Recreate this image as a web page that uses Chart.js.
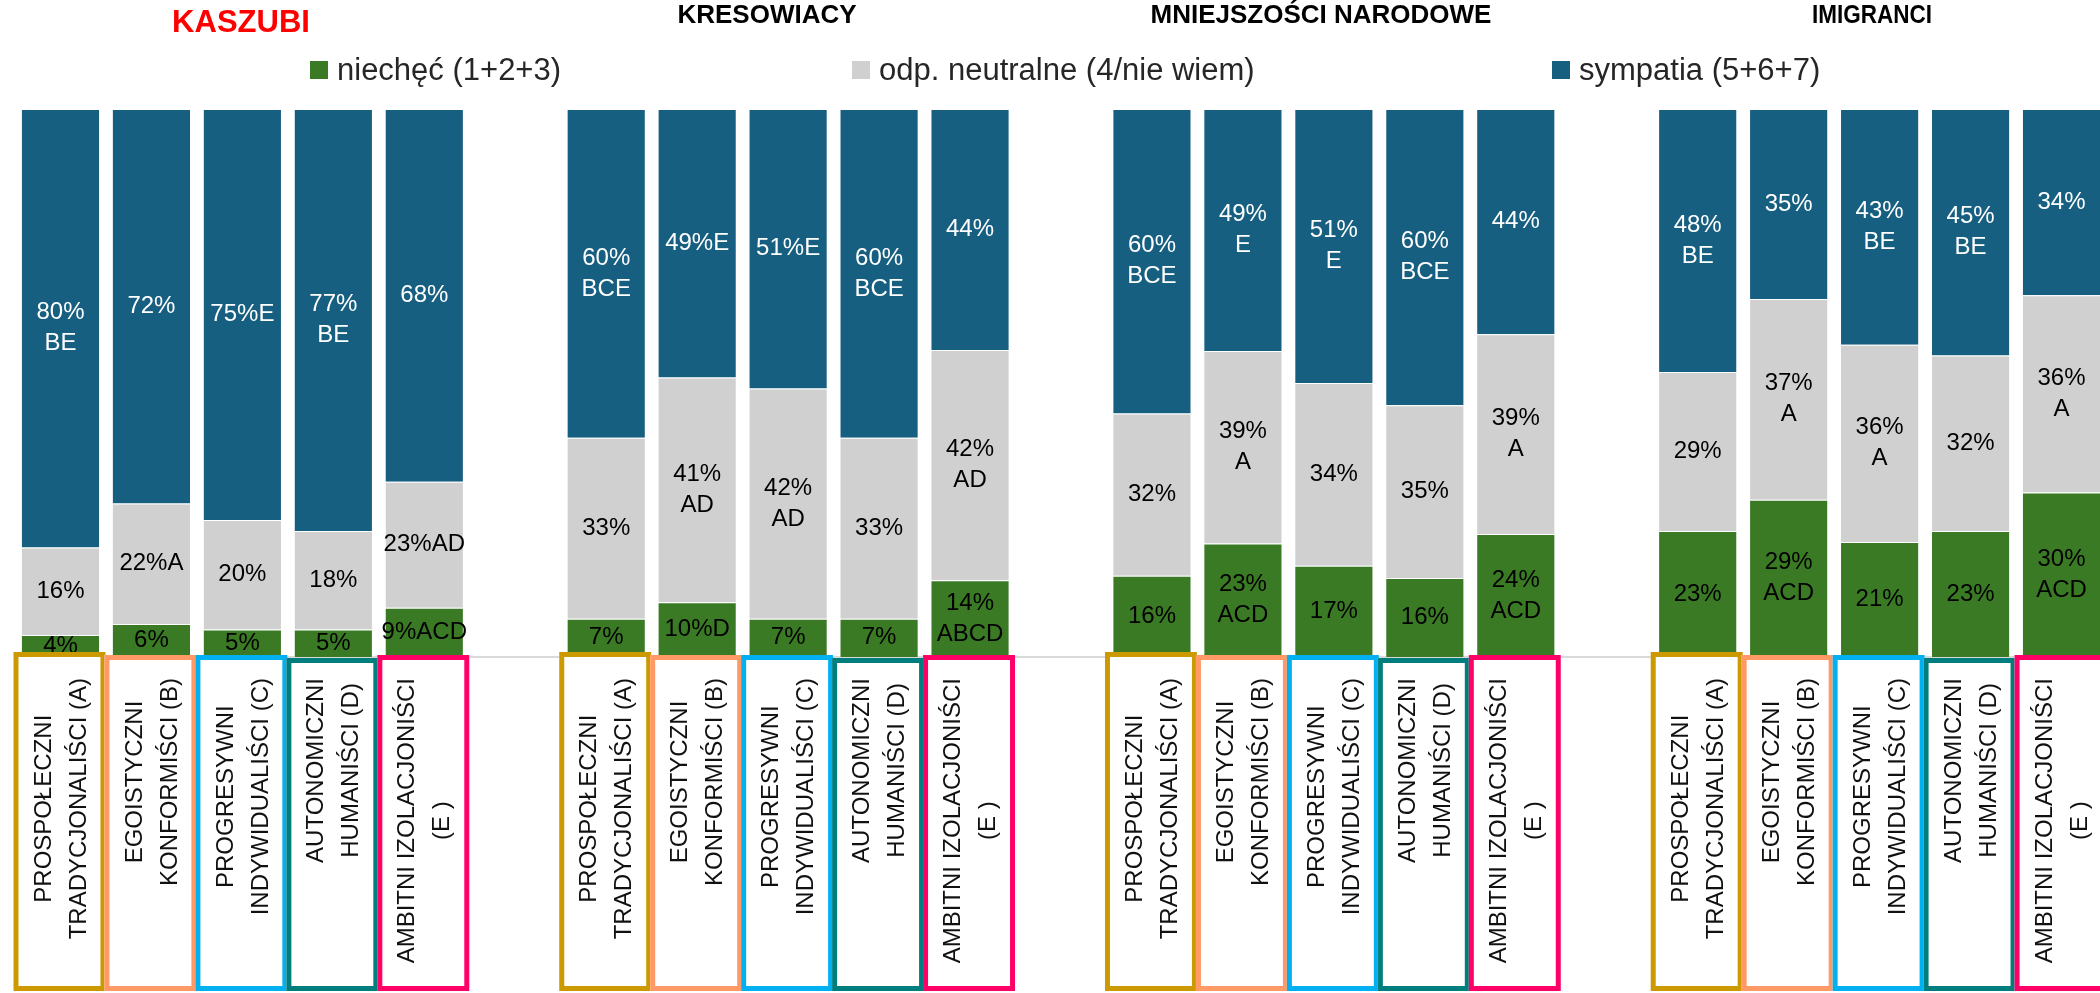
<!DOCTYPE html>
<html lang="pl">
<head>
<meta charset="utf-8">
<title>Niechęć i sympatia wobec grup</title>
<script src="https://cdn.jsdelivr.net/npm/chart.js@4.4.1/dist/chart.umd.min.js"></script>
<style>
  html, body { margin: 0; padding: 0; background: #fff; overflow: hidden; }
  #wrap { width: 2120px; height: 993px; }
</style>
</head>
<body>
<div id="wrap"><canvas id="chart" width="2120" height="993"></canvas></div>
<script>
// grupy - tytuły nad słupkami
const groups = ['KASZUBI', 'KRESOWIACY', 'MNIEJSZOŚCI NARODOWE', 'IMIGRANCI'];

// segmenty - opisy w ramkach pod słupkami
const segments = [
    ['PROSPOŁECZNI', 'TRADYCJONALIŚCI (A)'],
    ['EGOISTYCZNI', 'KONFORMIŚCI (B)'],
    ['PROGRESYWNI', 'INDYWIDUALIŚCI (C)'],
    ['AUTONOMICZNI', 'HUMANIŚCI (D)'],
    ['AMBITNI IZOLACJONIŚCI', '(E )'],
];

const seriesNames = ['niechęć (1+2+3)', 'odp. neutralne (4/nie wiem)', 'sympatia (5+6+7)'];

// wartości (%) - kolejno Kaszubi, Kresowiacy, Mniejszości, Imigranci, po 5 segmentów
const niechec   = [4, 6, 5, 5, 9,   7, 10, 7, 7, 14,   16, 23, 17, 16, 24,   23, 29, 21, 23, 30];
const neutralne = [16, 22, 20, 18, 23,   33, 41, 42, 33, 42,   32, 39, 34, 35, 39,   29, 37, 36, 32, 36];
const sympatia  = [80, 72, 75, 77, 68,   60, 49, 51, 60, 44,   60, 49, 51, 60, 44,   48, 35, 43, 45, 34];

// oznaczenia istotnych różnic ('\n' = w drugiej linii)
const niechecSig   = ['', '', '', '', 'ACD',   '', 'D', '', '', '\nABCD',   '', '\nACD', '', '', '\nACD',   '', '\nACD', '', '', '\nACD'];
const neutralneSig = ['', 'A', '', '', 'AD',   '', '\nAD', '\nAD', '', '\nAD',   '', '\nA', '', '', '\nA',   '', '\nA', '\nA', '', '\nA'];
const sympatiaSig  = ['\nBE', '', 'E', '\nBE', '',   '\nBCE', 'E', 'E', '\nBCE', '',   '\nBCE', '\nE', '\nE', '\nBCE', '',   '\nBE', '', '\nBE', '\nBE', ''];

const boxColors = ['#CC9A00', '#FF9A66', '#00B0F0', '#007E7E', '#FF0066'];
const FONT = "'Liberation Sans', Arial, sans-serif";

// sloty osi x: 5 słupków na grupę + pusty odstęp między grupami
const slotItem = [];
groups.forEach((g, gi) => {
    for (let t = 0; t < 5; t++) slotItem.push(gi * 5 + t);
    if (gi < groups.length - 1) slotItem.push(null);
});

// wykres 100% skumulowany - udział każdej części w sumie słupka
const shareOf = (arr) => slotItem.map(i => {
    if (i === null) return null;
    const total = niechec[i] + neutralne[i] + sympatia[i];
    return arr[i] / total * 100;
});

function makeSet(name, values, sig, color, textColor) {
    return {
        label: name,
        data: shareOf(values),
        values: values,
        sig: sig,
        textColor: textColor,
        backgroundColor: color,
        borderColor: 'rgba(255,255,255,0.45)',
        borderWidth: 1,
        categoryPercentage: 1,
        barPercentage: 0.87,
    };
}

const barLabels = {
    id: 'barLabels',
    afterDatasetsDraw(chart) {
        const ctx = chart.ctx;
        ctx.save();
        ctx.font = '24px ' + FONT;
        ctx.textAlign = 'center';
        ctx.textBaseline = 'middle';
        chart.data.datasets.forEach((ds, di) => {
            ctx.fillStyle = ds.textColor;
            chart.getDatasetMeta(di).data.forEach((bar, si) => {
                const item = slotItem[si];
                if (item === null) return;
                const lines = (ds.values[item] + '%' + ds.sig[item]).split('\n');
                const cy = (bar.y + bar.base) / 2;
                lines.forEach((ln, k) => {
                    ctx.fillText(ln, bar.x, cy + (k - (lines.length - 1) / 2) * 31);
                });
            });
        });
        ctx.restore();
    },
};

const decorations = {
    id: 'decorations',
    afterDraw(chart) {
        const ctx = chart.ctx;
        const x = chart.scales.x;
        const area = chart.chartArea;
        const sw = x.getPixelForValue(1) - x.getPixelForValue(0);
        const topShift = [-5, -2, -2, 1, -2];

        // ramki z nazwami segmentów
        slotItem.forEach((item, si) => {
            if (item === null) return;
            const t = item % 5;
            const cx = x.getPixelForValue(si);
            const left = cx - sw / 2 - 1.5;
            const top = area.bottom + topShift[t];
            const w = sw + 1;
            const h = 991 - top;
            ctx.save();
            ctx.fillStyle = '#fff';
            ctx.fillRect(left, top, w, h);
            ctx.strokeStyle = boxColors[t];
            ctx.lineWidth = 5;
            ctx.strokeRect(left + 2.5, top + 2.5, w - 5, h - 5);

            ctx.font = '24px ' + FONT;
            ctx.fillStyle = '#111';
            ctx.textAlign = 'center';
            ctx.textBaseline = 'middle';
            const lines = segments[t];
            const maxW = Math.max(...lines.map(l => ctx.measureText(l).width));
            const cy = area.bottom + 21 + maxW / 2;
            ctx.translate(cx + 1, cy);
            ctx.rotate(-Math.PI / 2);
            lines.forEach((ln, k) => {
                ctx.fillText(ln, 0, (k - (lines.length - 1) / 2) * 35);
            });
            ctx.restore();
        });

        // tytuły grup
        const titleX = [241, 767, 1321, 1872];
        const titleY = [23, 16, 16, 16];
        const titleSize = [31, 26, 26, 26];
        const titleMax = [200, 200, 400, 120];
        ctx.save();
        ctx.textAlign = 'center';
        ctx.textBaseline = 'middle';
        groups.forEach((g, gi) => {
            ctx.font = 'bold ' + titleSize[gi] + 'px ' + FONT;
            ctx.fillStyle = gi === 0 ? '#FF0000' : '#000';
            ctx.fillText(g, titleX[gi], titleY[gi], titleMax[gi]);
        });

        // legenda
        const legendX = [310, 852, 1552];
        ctx.font = '31px ' + FONT;
        ctx.textAlign = 'left';
        ctx.textBaseline = 'alphabetic';
        chart.data.datasets.forEach((ds, di) => {
            ctx.fillStyle = ds.backgroundColor;
            ctx.fillRect(legendX[di], 61, 18, 18);
            ctx.fillStyle = '#262626';
            ctx.fillText(ds.label, legendX[di] + 27, 80);
        });
        ctx.restore();
    },
};

new Chart(document.getElementById('chart'), {
    type: 'bar',
    data: {
        labels: slotItem.map(i => i === null ? '' : segments[i % 5].join(' ')),
        datasets: [
            makeSet(seriesNames[0], niechec, niechecSig, '#3B7A25', '#000'),
            makeSet(seriesNames[1], neutralne, neutralneSig, '#D0D0D0', '#000'),
            makeSet(seriesNames[2], sympatia, sympatiaSig, '#175F81', '#fff'),
        ],
    },
    options: {
        responsive: false,
        animation: false,
        devicePixelRatio: 1,
        layout: { padding: { left: 15, right: 13, top: 109, bottom: 336 } },
        scales: {
            x: {
                stacked: true,
                grid: { display: false },
                ticks: { display: false },
                border: { display: true, color: '#D9D9D9', width: 2 },
                afterFit: (s) => { s.height = 0; },
            },
            y: {
                stacked: true,
                display: false,
                min: 0,
                max: 100,
            },
        },
        plugins: {
            legend: { display: false },
            tooltip: { enabled: false },
        },
    },
    plugins: [barLabels, decorations],
});
</script>
</body>
</html>
